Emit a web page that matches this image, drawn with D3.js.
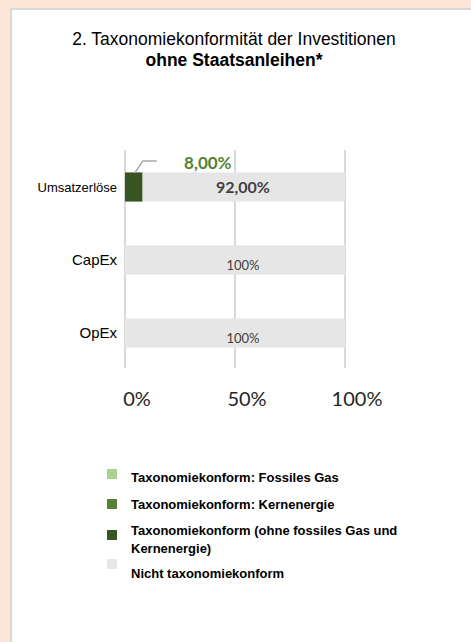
<!DOCTYPE html>
<html>
<head>
<meta charset="utf-8">
<script src="https://cdn.jsdelivr.net/npm/d3@7"></script>
<style>
  body { margin: 0; background: #fce4d6; }
  svg { display: block; }
</style>
</head>
<body>
<div id="chart"></div>
<script>
var width = 471, height = 642;

// data
var categories = ["Umsatzerlöse", "CapEx", "OpEx"];
var fossilGas = [0, 0, 0];
var nuclear = [0, 0, 0];
var aligned = [8, 0, 0];
var notAligned = [92, 100, 100];
var alignedLabels = ["8,00%", "", ""];
var notAlignedLabels = ["92,00%", "100%", "100%"];
var ticks = [0, 50, 100];
var legendNames = ["Taxonomiekonform: Fossiles Gas", "Taxonomiekonform: Kernenergie",
  "Taxonomiekonform (ohne fossiles Gas und|Kernenergie)", "Nicht taxonomiekonform"];
var colors = ["#a9d18e", "#548235", "#375623", "#e7e6e6"];

var svg = d3.select("#chart").append("svg").attr("width", width).attr("height", height);

// panel
svg.append("rect").attr("x", 11).attr("y", 9).attr("width", width).attr("height", height)
  .attr("fill", "#fff").attr("stroke", "#d9d9d9").attr("stroke-width", 2);

// title
var title = svg.append("text").attr("text-anchor", "middle")
  .style("font-family", "Liberation Sans, Arial, sans-serif").style("font-size", "17.5px").attr("fill", "#000");
title.append("tspan").attr("x", 234).attr("y", 45).text("2. Taxonomiekonformität der Investitionen");
title.append("tspan").attr("x", 234).attr("y", 65.5).style("font-weight", "bold").text("ohne Staatsanleihen*");

var x = d3.scaleLinear().domain([0, 100]).range([125, 345]);
var y = d3.scaleBand().domain(categories).range([150, 369]).paddingInner(0.6).paddingOuter(0.3);

// grid
svg.selectAll(".grid").data(ticks).enter().append("line")
  .attr("x1", function(d) { return x(d); }).attr("x2", function(d) { return x(d); })
  .attr("y1", 150).attr("y2", 368)
  .attr("stroke", "#d9d9d9").attr("stroke-width", 2);

var rows = categories.map(function(c, i) {
  return { cat: c, segs: [aligned[i], nuclear[i], fossilGas[i], notAligned[i]] };
});
var segColors = [colors[2], colors[1], colors[0], colors[3]];

var g = svg.selectAll(".row").data(rows).enter().append("g");
g.each(function(r) {
  var acc = 0, sel = d3.select(this);
  r.segs.forEach(function(v, k) {
    if (v > 0) {
      sel.append("rect")
        .attr("x", x(acc)).attr("width", x(acc + v) - x(acc))
        .attr("y", y(r.cat) + 0.5).attr("height", y.bandwidth())
        .attr("fill", segColors[k]);
    }
    acc += v;
  });
});

// labels inside grey segments
categories.forEach(function(c, i) {
  var cx = x(50) + 8;
  var big = i === 0;
  svg.append("text").attr("x", cx).attr("y", y(c) + y.bandwidth() / 2 + (big ? 6 : 10))
    .attr("text-anchor", "middle")
    .style("font-family", "Lato, sans-serif")
    .style("font-size", big ? "16px" : "13px")
    .style("font-weight", big ? "bold" : "normal")
    .attr("fill", "#404040").text(notAlignedLabels[i]);
  if (alignedLabels[i]) {
    var bx = x(aligned[i] / 2), by = y(c);
    svg.append("path")
      .attr("d", "M" + (bx + 1) + "," + (by + 1) + "L" + (bx + 9) + "," + (by - 11) + "L" + (bx + 23) + "," + (by - 11))
      .attr("fill", "none").attr("stroke", "#a6a6a6").attr("stroke-width", 1.5);
    svg.append("text").attr("x", bx + 74).attr("y", by - 3).attr("text-anchor", "middle")
      .style("font-family", "Lato, sans-serif").style("font-size", "17px").style("font-weight", "bold")
      .attr("fill", "#548235").text(alignedLabels[i]);
  }
});

// category labels
svg.selectAll(".cat").data(categories).enter().append("text")
  .attr("x", 117)
  .attr("y", function(d, i) { return y(d) + y.bandwidth() / 2 + 5; })
  .attr("text-anchor", "end")
  .style("font-family", "Liberation Sans, Arial, sans-serif")
  .style("font-size", function(d, i) { return i === 0 ? "13px" : "15px"; })
  .attr("fill", "#000").text(function(d) { return d; });

// x axis tick labels
svg.selectAll(".tick").data(ticks).enter().append("text")
  .attr("x", function(d) { return x(d) + 12; }).attr("y", 406)
  .attr("text-anchor", "middle")
  .style("font-family", "Lato, sans-serif").style("font-size", "20px")
  .attr("fill", "#262626").text(function(d) { return d + "%"; });

// legend
var legendY = [469, 499, 530, 559];
var textY = [482, 509, 535, 578];
legendNames.forEach(function(n, i) {
  svg.append("rect").attr("x", 107).attr("y", legendY[i]).attr("width", 10).attr("height", 10)
    .attr("fill", colors[i]);
  var t = svg.append("text").attr("y", textY[i])
    .style("font-family", "Liberation Sans Narrow, Arial Narrow, sans-serif")
    .style("font-size", "13px").style("font-weight", "bold").attr("fill", "#000");
  n.split("|").forEach(function(line, j) {
    t.append("tspan").attr("x", 131).attr("dy", j ? 18 : 0).text(line);
  });
});
</script>
</body>
</html>
